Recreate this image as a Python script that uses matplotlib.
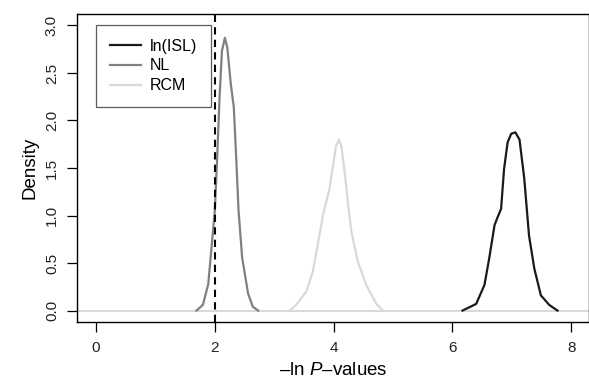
import matplotlib.pyplot as plt

plt.rcParams['font.family'] = ['Liberation Sans', 'DejaVu Sans']
plt.rcParams['mathtext.fontset'] = 'custom'
plt.rcParams['mathtext.rm'] = 'Liberation Sans'
plt.rcParams['mathtext.it'] = 'Liberation Sans:italic'

# density curves
isl_x = [6.17, 6.40, 6.54, 6.62, 6.71, 6.76, 6.82, 6.87, 6.93, 6.99, 7.06, 7.13, 7.21,
         7.29, 7.38, 7.49, 7.63, 7.77]
isl_y = [0.00, 0.07, 0.27, 0.55, 0.90, 0.98, 1.07, 1.49, 1.77, 1.86, 1.875, 1.80, 1.39,
         0.79, 0.44, 0.16, 0.06, 0.00]

nl_x = [1.69, 1.80, 1.89, 1.94, 2.00, 2.04, 2.08, 2.12, 2.17, 2.21, 2.27, 2.32, 2.36,
        2.40, 2.46, 2.56, 2.64, 2.73]
nl_y = [0.00, 0.06, 0.28, 0.63, 1.05, 1.61, 2.24, 2.73, 2.87, 2.77, 2.38, 2.14, 1.61,
        1.05, 0.56, 0.18, 0.04, 0.00]

rcm_x = [3.26, 3.37, 3.54, 3.65, 3.74, 3.82, 3.93, 4.00, 4.04, 4.09, 4.13, 4.18, 4.24,
         4.30, 4.41, 4.55, 4.72, 4.83]
rcm_y = [0.00, 0.06, 0.20, 0.41, 0.72, 1.00, 1.28, 1.56, 1.73, 1.80, 1.73, 1.49, 1.14,
         0.83, 0.51, 0.27, 0.07, 0.00]

cutoff = 2
xticks = [0, 2, 4, 6, 8]
yticks = [0.0, 0.5, 1.0, 1.5, 2.0, 2.5, 3.0]

fig = plt.figure(figsize=(5.89, 3.86), dpi=100)
ax = fig.add_axes([77 / 589, 64 / 386, 512 / 589, 308 / 386])

ax.axhline(0, color='#d9d9d9', lw=1.5, zorder=1)
ax.plot(isl_x, isl_y, color='#1a1a1a', lw=1.6, label='ln(ISL)', solid_joinstyle='round')
ax.plot(nl_x, nl_y, color='#808080', lw=1.6, label='NL', solid_joinstyle='round')
ax.plot(rcm_x, rcm_y, color='#d9d9d9', lw=1.6, label='RCM', solid_joinstyle='round')
ax.axvline(cutoff, color='black', lw=1.5, ls=(0, (3.5, 2.5)))

ax.set_xlim(-0.32, 8.3)
ax.set_ylim(-0.12, 3.12)
ax.set_xticks(xticks)
ax.set_xticklabels([str(t) for t in xticks])
ax.set_yticks(yticks)
ax.set_yticklabels([f'{t:.1f}' for t in yticks], rotation=90, va='center')
ax.tick_params(direction='out', length=7, width=0.9, labelsize=11, pad=6,
               labelcolor='#222222')
ax.tick_params(axis='x', pad=7)
for s in ax.spines.values():
    s.set_linewidth(1.0)

ax.set_ylabel('Density', fontsize=13.5, labelpad=5)
ax.set_xlabel(r'–ln $\it{P}$–values', fontsize=13.5, labelpad=5)

leg = ax.legend(loc='upper left', bbox_to_anchor=(0.037, 0.964), frameon=True,
                fancybox=False, edgecolor='#333333', fontsize=11.5, handlelength=2.0,
                borderpad=0.85, labelspacing=0.3, handletextpad=0.55, borderaxespad=0)
leg.get_frame().set_linewidth(0.9)

fig.savefig('out.png', dpi=100)
